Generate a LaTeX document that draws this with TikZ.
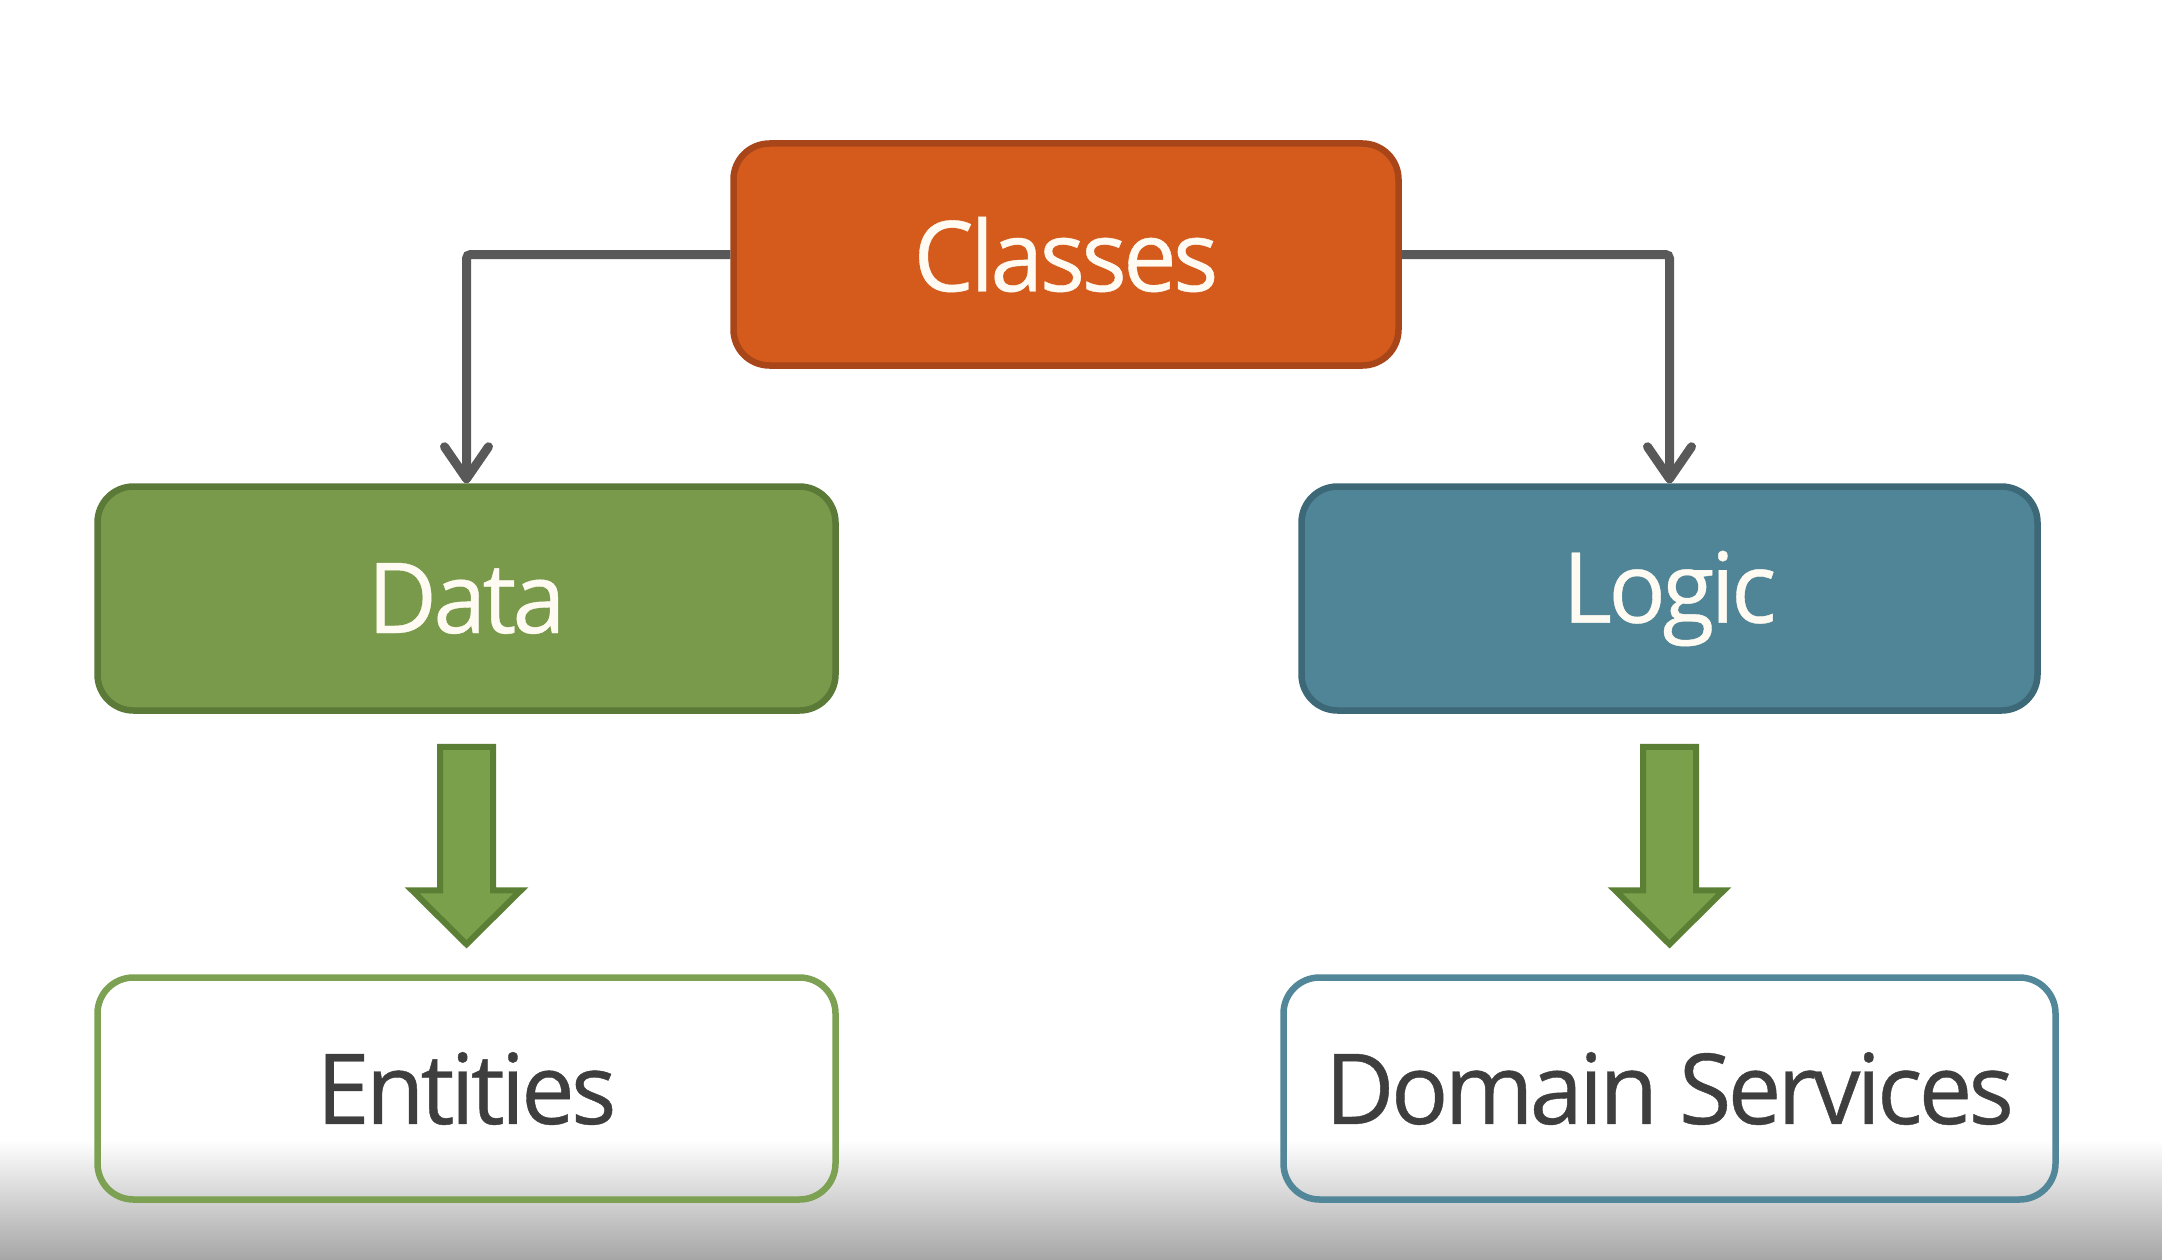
\documentclass[tikz,border=0pt]{standalone}
\usepackage{fontspec}
\usepackage{graphicx}
\setmainfont[LetterSpace=-4,FakeBold=0.4]{Open Sans}
\usetikzlibrary{arrows.meta,calc}
\definecolor{orfill}{HTML}{D45B1C}
\definecolor{ordraw}{HTML}{A8461A}
\definecolor{grfill}{HTML}{789A4A}
\definecolor{grdraw}{HTML}{5B7A38}
\definecolor{blfill}{HTML}{4F8596}
\definecolor{bldraw}{HTML}{3C6878}
\definecolor{grline}{HTML}{7CA152}
\definecolor{blline}{HTML}{52879A}
\definecolor{conncol}{HTML}{595959}
\definecolor{darktext}{HTML}{3E3E3E}
\definecolor{lighttext}{HTML}{FFFBF2}
\definecolor{arrfill}{HTML}{7AA04B}
\definecolor{arrdraw}{HTML}{5B7F34}
\definecolor{bottomgray}{HTML}{A6A6A6}
\newcommand{\lbl}[1]{\scalebox{0.975}[1]{#1}}
\tikzset{
  box/.style={rectangle, rounded corners=36pt, line width=6.5pt, minimum height=222pt,
    font=\fontsize{98}{110}\selectfont, anchor=center, inner sep=0pt},
  filledbox/.style={box, text=lighttext},
  whitebox/.style={box, text=darktext},
  conn/.style={draw=conncol, line width=9pt, rounded corners=4pt,
    -{Straight Barb[length=32pt,width=44pt,line width=9pt,round]}},
  blockarrow/.style={draw=arrdraw, fill=arrfill, line width=6pt, line join=miter}
}
\begin{document}
\begin{tikzpicture}[x=1pt,y=-1pt]
\useasboundingbox (0,0) rectangle (2162,1260);
\fill[white] (0,0) rectangle (2162,1260);
\shade[top color=white, bottom color=bottomgray] (0,1140) rectangle (2162,1260);

\node[filledbox, fill=orfill, draw=ordraw, minimum width=665pt, minimum height=222pt] (classes) at (1066,254.5) {\lbl{Classes}};
\node[filledbox, fill=grfill, draw=grdraw, minimum width=738pt, minimum height=224pt] (data) at (466.5,598.5) {\lbl{Data}};
\node[filledbox, fill=blfill, draw=bldraw, minimum width=736pt, minimum height=224pt] (logic) at (1669.5,598.5) {\lbl{Logic}};
\node[whitebox, draw=grline, minimum width=738pt] (entities) at (466.5,1088.5) {\lbl{Entities}};
\node[whitebox, draw=blline, minimum width=772pt] (domain) at (1669.5,1088.5) {\lbl{Domain Services}};

\draw[conn] (classes.west) -| (data.north);
\draw[conn] (classes.east) -| (logic.north);

\draw[blockarrow] ($(data.south)+(-26.5,33)$) -- ($(data.south)+(26.5,33)$)
  -- ($(entities.north)+(26.5,-84)$) -- ($(entities.north)+(54.5,-84)$)
  -- ($(entities.north)+(0,-30)$) -- ($(entities.north)+(-54.5,-84)$)
  -- ($(entities.north)+(-26.5,-84)$) -- cycle;
\draw[blockarrow] ($(logic.south)+(-26.5,33)$) -- ($(logic.south)+(26.5,33)$)
  -- ($(domain.north)+(26.5,-84)$) -- ($(domain.north)+(54.5,-84)$)
  -- ($(domain.north)+(0,-30)$) -- ($(domain.north)+(-54.5,-84)$)
  -- ($(domain.north)+(-26.5,-84)$) -- cycle;
\end{tikzpicture}
\end{document}
